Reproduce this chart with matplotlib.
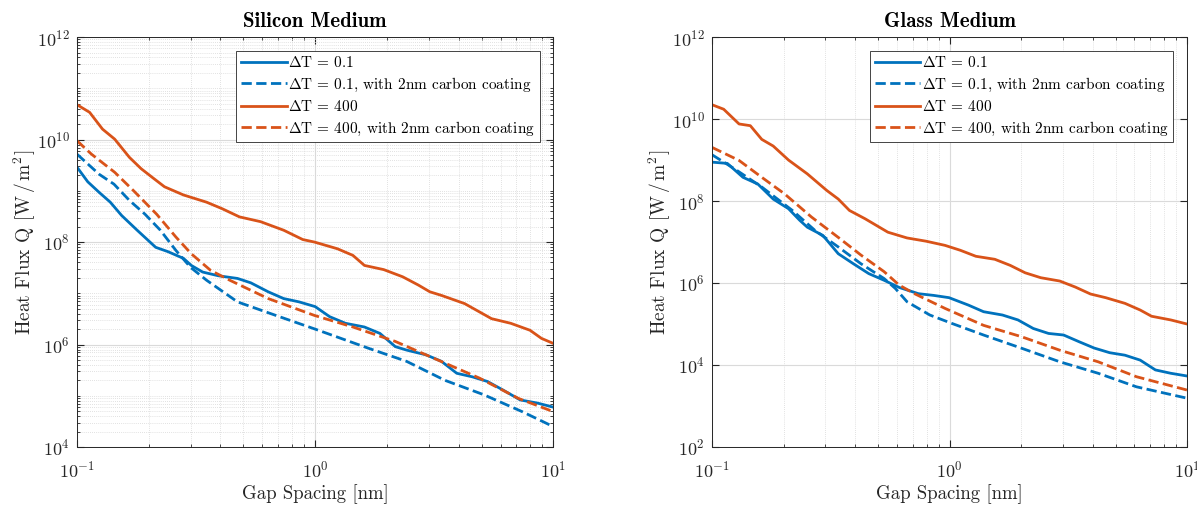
import numpy as np
import matplotlib
matplotlib.use('agg')
import matplotlib.pyplot as plt
from matplotlib.ticker import LogLocator, NullFormatter

plt.rcParams['font.family'] = ['cmr10', 'DejaVu Serif']
plt.rcParams['mathtext.fontset'] = 'cm'
plt.rcParams['axes.unicode_minus'] = False
plt.rcParams['axes.formatter.use_mathtext'] = True

BLUE = '#0072BD'
ORANGE = '#D95319'

labels = [r'$\Delta\mathrm{T}$ = 0.1',
          r'$\Delta\mathrm{T}$ = 0.1, with 2nm carbon coating',
          r'$\Delta\mathrm{T}$ = 400',
          r'$\Delta\mathrm{T}$ = 400, with 2nm carbon coating']

# ---- Silicon medium ----
si_gap_a = [0.1, 0.111, 0.124, 0.138, 0.154, 0.179, 0.214, 0.241, 0.28, 0.302, 0.337, 0.392,
            0.472, 0.537, 0.635, 0.737, 0.856, 1.0, 1.15, 1.34, 1.61, 1.87, 2.17, 2.42, 2.92,
            3.39, 3.93, 4.56, 5.29, 6.14, 7.26, 8.58, 10]
si_q_a = [2.9e9, 1.5e9, 9.3e8, 6.0e8, 3.3e8, 1.7e8, 7.9e7, 6.5e7, 4.8e7, 3.5e7, 2.6e7, 2.2e7,
          1.95e7, 1.6e7, 1.07e7, 7.9e6, 6.8e6, 5.5e6, 3.5e6, 2.6e6, 2.2e6, 1.65e6, 9.1e5, 7.8e5,
          6.3e5, 4.7e5, 2.75e5, 2.35e5, 1.9e5, 1.3e5, 8.3e4, 7.2e4, 6.0e4]

si_gap_b = [0.1, 0.124, 0.143, 0.166, 0.193, 0.224, 0.26, 0.3, 0.35, 0.472, 0.684, 1.0, 1.67,
            2.42, 3.51, 5.1, 7.4, 10]
si_q_b = [5.2e9, 2.1e9, 1.35e9, 6.5e8, 3.5e8, 1.7e8, 6.9e7, 3.2e7, 1.8e7, 6.8e6, 3.7e6, 2.0e6,
          8.5e5, 4.7e5, 2.0e5, 1.05e5, 4.9e4, 2.5e4]

si_gap_c = [0.1, 0.113, 0.128, 0.144, 0.166, 0.186, 0.208, 0.233, 0.28, 0.35, 0.406, 0.481,
            0.59, 0.738, 0.887, 0.993, 1.24, 1.44, 1.61, 1.94, 2.33, 2.71, 3.03, 3.39, 4.24,
            5.5, 6.62, 7.98, 8.91, 10]
si_q_c = [4.8e10, 3.4e10, 1.6e10, 1.02e10, 4.5e9, 2.7e9, 1.8e9, 1.2e9, 8.3e8, 6.0e8, 4.5e8,
          3.1e8, 2.5e8, 1.7e8, 1.12e8, 1.0e8, 7.4e7, 5.5e7, 3.5e7, 2.9e7, 2.1e7, 1.45e7,
          1.07e7, 9.1e6, 6.3e6, 3.2e6, 2.6e6, 1.9e6, 1.32e6, 1.05e6]

si_gap_d = [0.1, 0.115, 0.144, 0.173, 0.216, 0.26, 0.302, 0.364, 0.438, 0.635, 0.993, 1.44,
            2.17, 3.15, 4.91, 7.13, 10]
si_q_d = [9.5e9, 5.2e9, 2.3e9, 1.0e9, 3.5e8, 1.26e8, 5.9e7, 2.8e7, 1.8e7, 7.9e6, 3.7e6,
          2.2e6, 1.15e6, 5.4e5, 2.2e5, 8.9e4, 4.9e4]

# ---- Glass medium ----
gl_gap_a = [0.1, 0.116, 0.135, 0.156, 0.181, 0.21, 0.234, 0.252, 0.293, 0.34, 0.394, 0.457,
            0.53, 0.614, 0.74, 0.857, 0.995, 1.2, 1.39, 1.67, 1.94, 2.25, 2.61, 3.02, 3.51,
            4.06, 4.72, 5.47, 6.34, 7.35, 8.53, 10]
gl_q_a = [8.9e8, 8.3e8, 3.8e8, 2.6e8, 1.12e8, 6.5e7, 3.4e7, 2.3e7, 1.45e7, 5.2e6, 2.95e6,
          1.7e6, 1.17e6, 7.8e5, 5.5e5, 5.0e5, 4.4e5, 2.9e5, 2.0e5, 1.66e5, 1.26e5, 7.8e4,
          5.9e4, 5.4e4, 3.7e4, 2.6e4, 2.0e4, 1.74e4, 1.32e4, 7.6e3, 6.3e3, 5.4e3]

gl_gap_b = [0.1, 0.125, 0.162, 0.218, 0.272, 0.34, 0.424, 0.53, 0.591, 0.662, 0.826, 1.03,
            1.39, 2.01, 2.91, 4.22, 6.11, 10]
gl_q_b = [1.35e9, 6.0e8, 2.2e8, 5.9e7, 1.9e7, 7.6e6, 2.95e6, 1.29e6, 7.4e5, 3.5e5, 1.66e5,
          1.02e5, 5.4e4, 2.57e4, 1.2e4, 6.3e3, 2.95e3, 1.55e3]

gl_gap_c = [0.1, 0.112, 0.13, 0.145, 0.162, 0.181, 0.21, 0.252, 0.304, 0.34, 0.379, 0.441,
            0.55, 0.662, 0.796, 0.957, 1.11, 1.29, 1.55, 1.8, 2.08, 2.42, 2.91, 3.38, 3.92,
            4.54, 5.47, 6.34, 7.08, 8.53, 10]
gl_q_c = [2.24e10, 1.74e10, 7.6e9, 6.9e9, 3.2e9, 2.2e9, 1.0e9, 4.6e8, 1.82e8, 1.12e8, 5.9e7,
          3.7e7, 1.74e7, 1.26e7, 1.05e7, 8.3e6, 6.3e6, 4.5e6, 3.8e6, 2.7e6, 1.78e6, 1.35e6,
          1.12e6, 8.0e5, 5.4e5, 4.4e5, 3.2e5, 2.2e5, 1.55e5, 1.26e5, 1.0e5]

gl_gap_d = [0.1, 0.13, 0.162, 0.202, 0.262, 0.34, 0.424, 0.53, 0.614, 0.712, 0.958, 1.39,
            2.01, 2.91, 4.22, 6.11, 10]
gl_q_d = [2.04e9, 9.8e8, 3.8e8, 1.5e8, 4.1e7, 1.3e7, 4.8e6, 1.9e6, 8.9e5, 5.5e5, 2.4e5,
          9.3e4, 4.9e4, 2.3e4, 1.2e4, 5.2e3, 2.45e3]

panels = [
    ('Silicon Medium', [0.0643, 0.12, 0.398, 0.807], (1e4, 1e12),
     [(si_gap_a, si_q_a), (si_gap_b, si_q_b), (si_gap_c, si_q_c), (si_gap_d, si_q_d)]),
    ('Glass Medium', [0.5948, 0.12, 0.397, 0.807], (1e2, 1e12),
     [(gl_gap_a, gl_q_a), (gl_gap_b, gl_q_b), (gl_gap_c, gl_q_c), (gl_gap_d, gl_q_d)]),
]
styles = [(BLUE, '-'), (BLUE, '--'), (ORANGE, '-'), (ORANGE, '--')]

fig = plt.figure(figsize=(11.97, 5.08), dpi=100)
for title, pos, ylim, series in panels:
    ax = fig.add_axes(pos)
    for (gap, q), (c, ls), lab in zip(series, styles, labels):
        ax.plot(gap, q, color=c, ls=ls, lw=2.0, label=lab)
    ax.set_xscale('log')
    ax.set_yscale('log')
    ax.set_xlim(0.1, 10)
    ax.set_ylim(*ylim)
    ax.yaxis.set_major_locator(LogLocator(base=100))
    ax.yaxis.set_minor_locator(LogLocator(base=10, subs=np.arange(1, 10)))
    ax.yaxis.set_minor_formatter(NullFormatter())
    ax.xaxis.set_minor_formatter(NullFormatter())
    ax.grid(True, which='major', color='#dadada', lw=0.8)
    ax.grid(True, which='minor', color='#d8d8d8', lw=0.6, ls=(0, (1, 1.5)))
    ax.set_axisbelow(True)
    ax.tick_params(which='both', direction='in', top=True, right=True,
                   colors='#262626', labelsize=13)
    ax.tick_params(which='major', length=5)
    ax.tick_params(which='minor', length=2.5)
    ax.tick_params(axis='x', which='major', pad=9)
    ax.tick_params(axis='y', which='major', pad=5)
    for s in ax.spines.values():
        s.set_color('#262626')
        s.set_linewidth(0.7)
    ax.set_xlabel('Gap Spacing [nm]', fontsize=13.5, color='#262626', labelpad=3)
    ax.set_ylabel(r'Heat Flux Q $\mathrm{[W\,/\,m^2]}$', fontsize=14, color='#262626',
                  labelpad=-1)
    ax.set_title(title, fontsize=15, fontfamily='cmb10', pad=7)
    leg = ax.legend(loc='upper right', fontsize=11, fancybox=False, framealpha=1,
                    edgecolor='#262626', handlelength=3.0, handletextpad=0.1,
                    borderaxespad=0.9, labelspacing=0.35, borderpad=0.3)
    leg.get_frame().set_linewidth(0.6)

fig.savefig('out.png', dpi=100)
